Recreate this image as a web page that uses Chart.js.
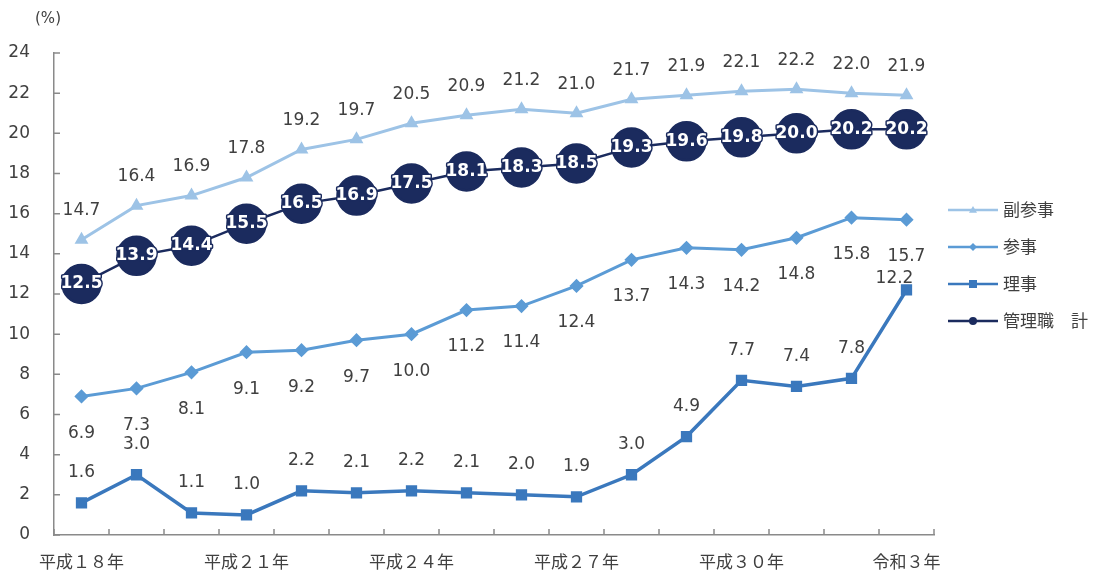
<!DOCTYPE html>
<html lang="ja">
<head>
<meta charset="UTF-8">
<title>管理職に占める女性の割合</title>
<script src="https://cdn.jsdelivr.net/npm/chart.js"></script>
<style>
  html, body { margin: 0; padding: 0; background: #fff; }
  #wrap { width: 1094px; height: 579px; }
</style>
</head>
<body>
<div id="wrap"><canvas id="chart" width="1094" height="579"></canvas></div>
<script>
  // 年度（平成18年〜令和3年）
  const years = ['平成１８年', '平成１９年', '平成２０年', '平成２１年', '平成２２年', '平成２３年',
    '平成２４年', '平成２５年', '平成２６年', '平成２７年', '平成２８年', '平成２９年',
    '平成３０年', '令和元年', '令和２年', '令和３年'];
  const shownYears = ['平成１８年', '平成２１年', '平成２４年', '平成２７年', '平成３０年', '令和３年'];

  const fukuSanji = [14.7, 16.4, 16.9, 17.8, 19.2, 19.7, 20.5, 20.9, 21.2, 21.0, 21.7, 21.9, 22.1, 22.2, 22.0, 21.9];
  const sanji = [6.9, 7.3, 8.1, 9.1, 9.2, 9.7, 10.0, 11.2, 11.4, 12.4, 13.7, 14.3, 14.2, 14.8, 15.8, 15.7];
  const riji = [1.6, 3.0, 1.1, 1.0, 2.2, 2.1, 2.2, 2.1, 2.0, 1.9, 3.0, 4.9, 7.7, 7.4, 7.8, 12.2];
  const kanriTotal = [12.5, 13.9, 14.4, 15.5, 16.5, 16.9, 17.5, 18.1, 18.3, 18.5, 19.3, 19.6, 19.8, 20.0, 20.2, 20.2];

  const yMin = 0, yMax = 24, yStep = 2;

  const textColor = '#404040';
  const axisColor = '#8a8a8a';
  const labelFont = '17px "DejaVu Sans", Verdana, sans-serif';
  const cjkFont = '"Noto Sans CJK JP", "Noto Sans", sans-serif';

  // inward tick marks like the original
  const innerTicks = {
    id: 'innerTicks',
    afterDatasetsDraw(chart) {
      const { ctx, chartArea: a, scales } = chart;
      ctx.save();
      ctx.strokeStyle = axisColor;
      ctx.lineWidth = 1.5;
      ctx.beginPath();
      const step = (a.right - a.left) / years.length;
      for (let i = 0; i <= years.length; i++) {
        const x = a.left + i * step;
        ctx.moveTo(x, a.bottom);
        ctx.lineTo(x, a.bottom - 6);
      }
      for (let v = yMin; v <= yMax; v += yStep) {
        const y = scales.y.getPixelForValue(v);
        ctx.moveTo(a.left, y);
        ctx.lineTo(a.left + 6, y);
      }
      ctx.stroke();
      ctx.fillStyle = textColor;
      ctx.font = '15px "DejaVu Sans", sans-serif';
      ctx.textAlign = 'center';
      ctx.textBaseline = 'middle';
      ctx.fillText('(%)', a.left - 6, 19);
      ctx.restore();
    }
  };

  const valueLabels = {
    id: 'valueLabels',
    afterDatasetsDraw(chart) {
      const { ctx } = chart;
      ctx.save();
      ctx.textAlign = 'center';
      ctx.textBaseline = 'middle';
      chart.data.datasets.forEach((ds, di) => {
        const meta = chart.getDatasetMeta(di);
        meta.data.forEach((pt, i) => {
          const txt = ds.data[i].toFixed(1);
          const shift = (ds.labelShift && ds.labelShift[i]) || [0, ds.labelDy];
          const x = pt.x + shift[0];
          const y = pt.y + shift[1];
          if (ds.labelInside) {
            ctx.font = 'bold 17px "DejaVu Sans", Verdana, sans-serif';
            ctx.lineJoin = 'round';
            ctx.lineWidth = 3;
            ctx.strokeStyle = '#1b2b5e';
            ctx.strokeText(txt, x, y);
            ctx.fillStyle = '#ffffff';
            ctx.fillText(txt, x, y);
          } else {
            ctx.font = labelFont;
            ctx.fillStyle = textColor;
            ctx.fillText(txt, x, y);
          }
        });
      });
      ctx.restore();
    }
  };

  const sideLegend = {
    id: 'sideLegend',
    afterDraw(chart) {
      const { ctx } = chart;
      ctx.save();
      chart.data.datasets.forEach((ds, di) => {
        const y = 210 + di * 37;
        ctx.strokeStyle = ds.borderColor;
        ctx.lineWidth = 2.5;
        ctx.beginPath();
        ctx.moveTo(948, y);
        ctx.lineTo(998, y);
        ctx.stroke();
        ctx.fillStyle = ds.pointBackgroundColor;
        const r = 4;
        ctx.beginPath();
        if (ds.pointStyle === 'triangle') {
          ctx.moveTo(973, y - r); ctx.lineTo(973 + r, y + r * 0.7); ctx.lineTo(973 - r, y + r * 0.7);
        } else if (ds.pointStyle === 'rectRot') {
          ctx.moveTo(973, y - r); ctx.lineTo(973 + r, y); ctx.lineTo(973, y + r); ctx.lineTo(973 - r, y);
        } else if (ds.pointStyle === 'rect') {
          ctx.rect(973 - r, y - r, r * 2, r * 2);
        } else {
          ctx.arc(973, y, r, 0, Math.PI * 2);
        }
        ctx.closePath();
        ctx.fill();
        ctx.fillStyle = textColor;
        ctx.font = '17px ' + cjkFont;
        ctx.textAlign = 'left';
        ctx.textBaseline = 'middle';
        ctx.fillText(ds.label, 1003, y);
      });
      ctx.restore();
    }
  };

  new Chart(document.getElementById('chart'), {
    type: 'line',
    data: {
      labels: years,
      datasets: [
        {
          label: '副参事',
          data: fukuSanji,
          borderColor: '#9dc3e6',
          pointBackgroundColor: '#9dc3e6',
          pointBorderColor: '#9dc3e6',
          borderWidth: 3,
          pointStyle: 'triangle',
          pointRadius: 5,
          labelDy: -29,
          order: 3
        },
        {
          label: '参事',
          data: sanji,
          borderColor: '#5b9bd5',
          pointBackgroundColor: '#5b9bd5',
          pointBorderColor: '#5b9bd5',
          borderWidth: 3,
          pointStyle: 'rectRot',
          pointRadius: 5,
          labelDy: 37,
          order: 2
        },
        {
          label: '理事',
          data: riji,
          borderColor: '#3a78bd',
          pointBackgroundColor: '#3a78bd',
          pointBorderColor: '#3a78bd',
          borderWidth: 3.5,
          pointStyle: 'rect',
          pointRadius: 5.5,
          labelDy: -30,
          labelShift: { 15: [-12, -11] },
          order: 1
        },
        {
          label: '管理職　計',
          data: kanriTotal,
          borderColor: '#1b2b5e',
          pointBackgroundColor: '#1b2b5e',
          pointBorderColor: '#1b2b5e',
          borderWidth: 2.5,
          pointStyle: 'circle',
          pointRadius: 19,
          labelDy: 0,
          labelInside: true,
          order: 0
        }
      ]
    },
    options: {
      responsive: false,
      animation: false,
      layout: { padding: { left: 8, right: 160, top: 53, bottom: 0 } },
      plugins: {
        legend: { display: false },
        tooltip: { enabled: false }
      },
      elements: { line: { tension: 0 } },
      scales: {
        x: {
          offset: true,
          grid: { display: false, drawTicks: false },
          border: { display: true, color: axisColor, width: 1.5 },
          ticks: {
            autoSkip: false,
            maxRotation: 0,
            padding: 16,
            color: textColor,
            font: { family: cjkFont, size: 17 },
            callback: (v, i) => shownYears.includes(years[i]) ? years[i] : ''
          },
          afterFit: (scale) => {
            scale.height = 44;
            scale.paddingLeft = 0;
            scale.paddingRight = 0;
          }
        },
        y: {
          min: yMin,
          max: yMax,
          grid: { display: false, drawTicks: false },
          border: { display: true, color: axisColor, width: 1.5 },
          ticks: {
            stepSize: yStep,
            padding: 24,
            color: textColor,
            font: { family: '"DejaVu Sans", Verdana, sans-serif', size: 17 }
          },
          afterFit: (scale) => {
            scale.width = 46;
          }
        }
      }
    },
    plugins: [innerTicks, valueLabels, sideLegend]
  });
</script>
</body>
</html>
